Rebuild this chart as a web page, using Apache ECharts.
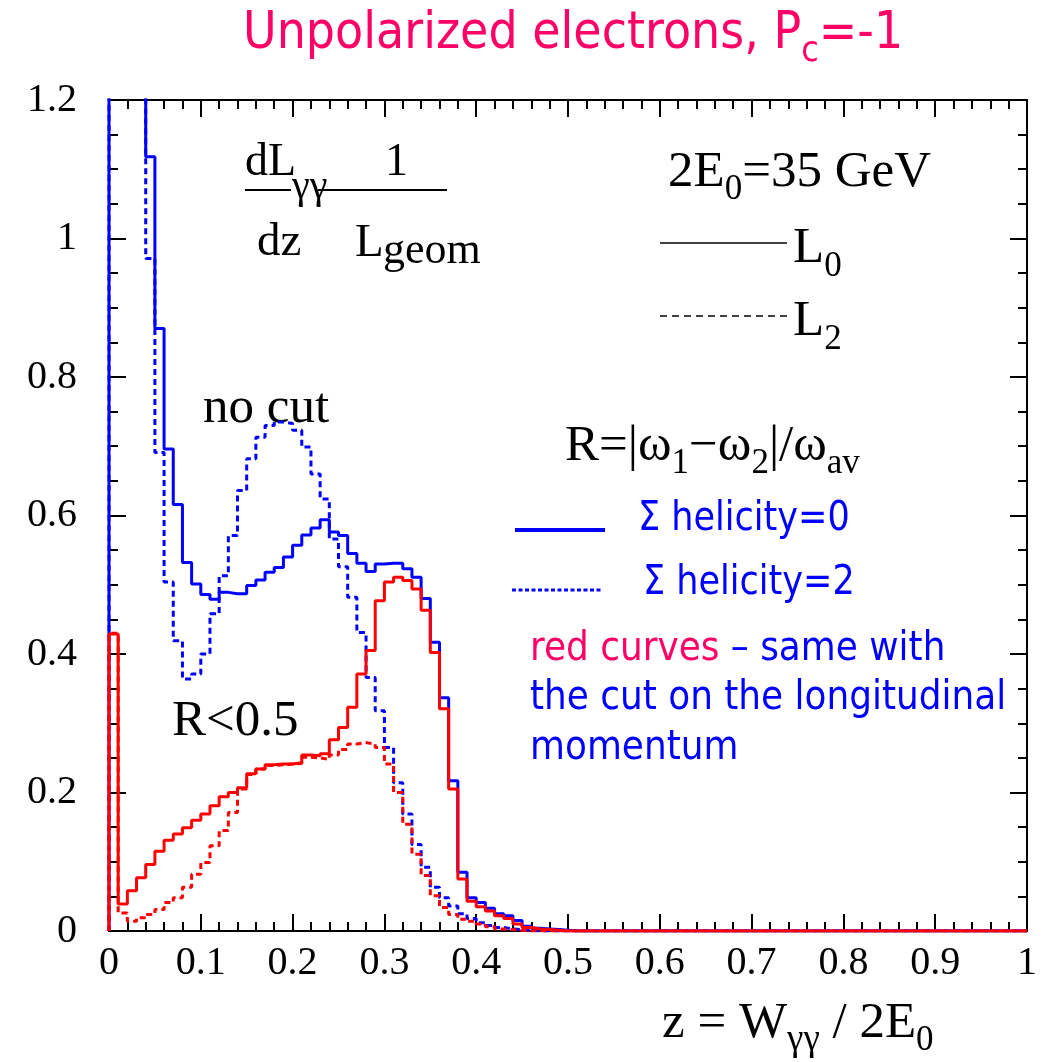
<!DOCTYPE html>
<html><head><meta charset="utf-8">
<script src="https://cdn.jsdelivr.net/npm/echarts@6/dist/echarts.min.js"></script>
<style>html,body{margin:0;padding:0;background:#fff}#c{width:1051px;height:1062px}</style>
</head><body><div id="c"></div>
<script>
// ---------------- data ----------------
const binWidth = 0.01;           // 100 bins on z in [0,1]
const xRange = [0, 1];
const yRange = [0, 1.2];
// Sigma helicity = 0 (L0), no cut  (first bins are off-scale, clipped at 1.2)
const noCutL0 = [1.6,1.45,1.35,1.25,1.118,0.870,0.696,0.616,0.532,0.501,
  0.486,0.479,0.489,0.487,0.487,0.499,0.507,0.518,0.525,0.540,
  0.557,0.572,0.582,0.594,0.576,0.571,0.545,0.531,0.519,0.530,
  0.531,0.531,0.523,0.511,0.480,0.417,0.337,0.217,0.085,0.048,
  0.041,0.033,0.025,0.022,0.015,0.007,0.004,0.003,0.002,0.001,
  0,0,0,0,0,0,0,0,0,0, 0,0,0,0,0,0,0,0,0,0, 0,0,0,0,0,0,0,0,0,0,
  0,0,0,0,0,0,0,0,0,0, 0,0,0,0,0,0,0,0,0,0];
// Sigma helicity = 2 (L2), no cut
const noCutL2 = [1.6,1.45,1.35,1.25,0.971,0.691,0.504,0.419,0.364,0.371,
  0.400,0.458,0.513,0.571,0.636,0.682,0.713,0.730,0.735,0.733,
  0.723,0.699,0.660,0.624,0.566,0.526,0.482,0.431,0.366,0.318,
  0.265,0.214,0.169,0.125,0.092,0.063,0.048,0.036,0.025,0.018,
  0.012,0.008,0.005,0.003,0.002,0.001,0,0,0,0,
  0,0,0,0,0,0,0,0,0,0, 0,0,0,0,0,0,0,0,0,0, 0,0,0,0,0,0,0,0,0,0,
  0,0,0,0,0,0,0,0,0,0, 0,0,0,0,0,0,0,0,0,0];
// with cut R<0.5, L0
const cutL0 = [0.429,0.039,0.058,0.077,0.096,0.115,0.131,0.140,0.149,0.160,
  0.169,0.181,0.194,0.200,0.207,0.227,0.234,0.240,0.241,0.241,
  0.243,0.254,0.253,0.256,0.276,0.294,0.323,0.371,0.405,0.477,
  0.504,0.511,0.506,0.494,0.463,0.402,0.321,0.205,0.075,0.043,
  0.035,0.029,0.022,0.018,0.010,0.005,0.003,0.002,0.001,0,
  0,0,0,0,0,0,0,0,0,0, 0,0,0,0,0,0,0,0,0,0, 0,0,0,0,0,0,0,0,0,0,
  0,0,0,0,0,0,0,0,0,0, 0,0,0,0,0,0,0,0,0,0];
// with cut R<0.5, L2
const cutL2 = [0.430,0.026,0.014,0.019,0.024,0.031,0.041,0.048,0.063,0.082,
  0.099,0.123,0.145,0.171,0.205,0.226,0.234,0.239,0.240,0.241,
  0.242,0.251,0.250,0.248,0.254,0.262,0.270,0.272,0.270,0.265,
  0.241,0.200,0.154,0.111,0.080,0.051,0.034,0.024,0.017,0.014,
  0.010,0.006,0.003,0.002,0.001,0,0,0,0,0,
  0,0,0,0,0,0,0,0,0,0, 0,0,0,0,0,0,0,0,0,0, 0,0,0,0,0,0,0,0,0,0,
  0,0,0,0,0,0,0,0,0,0, 0,0,0,0,0,0,0,0,0,0];

// ---------------- helpers ----------------
function histData(vals){
  const d = [[0, 0]];
  vals.forEach((v, i) => d.push([+(i * binWidth).toFixed(4), v]));
  d.push([xRange[1], vals[vals.length - 1]]);
  return d;
}
const SERIF = '"Liberation Serif","Times New Roman",serif';
const SANS = '"DejaVu Sans",Verdana,sans-serif';
const mctx = document.createElement('canvas').getContext('2d');
function tw(t, font){ mctx.font = font; return mctx.measureText(t).width; }
const K = 0.34; // middle->baseline offset factor
function run(x, base, parts){
  const els = [];
  let cx = x;
  parts.forEach(p => {
    const font = (p.weight || 'normal') + ' ' + p.size + 'px ' + p.fam;
    const sx = p.sx || 1;
    const yb = base + (p.dy || 0);
    els.push({type:'text', x: cx, y: yb - K * p.size, scaleX: sx, silent:true,
      style:{text:p.t, font: font, fill:p.color || '#000', align:'left', verticalAlign:'middle'}});
    cx += tw(p.t, font) * sx + (p.gap || 0);
  });
  return els;
}
function hline(x1, x2, y, color, w, dash){
  return {type:'line', silent:true, shape:{x1:x1, y1:y, x2:x2, y2:y},
    style:{stroke:color, lineWidth:w, lineDash: dash || null}};
}

const PINK = '#ff0066', BLUE = '#0000ff';
const SX = 0.87;
const TS = 51, SS = 35;   // Times main / subscript sizes
let g = [];
// title
g = g.concat(run(243, 52, [
  {t:'Unpolarized electrons, P', size:52, fam:SANS, color:PINK, sx:0.885},
  {t:'c', size:36, fam:SANS, color:PINK, sx:0.885, dy:12},
  {t:'=-1', size:52, fam:SANS, color:PINK, sx:0.885}
]));
// dL/dz 1/Lgeom
g = g.concat(run(245, 179, [{t:'dL', size:46, fam:SERIF}]));
g = g.concat(run(292, 201, [{t:'γγ', size:40, fam:SERIF}]));
g = g.concat(run(385, 179, [{t:'1', size:46, fam:SERIF}]));
g.push(hline(245, 291, 190, '#000', 2));
g.push(hline(318, 447, 190, '#000', 2));
g = g.concat(run(257, 259, [{t:'dz', size:47, fam:SERIF}]));
g = g.concat(run(355, 260, [{t:'L', size:47, fam:SERIF}]));
g = g.concat(run(383, 266, [{t:'geom', size:44, fam:SERIF}]));
// 2E0=35 GeV
g = g.concat(run(668, 190, [
  {t:'2E', size:TS, fam:SERIF}, {t:'0', size:SS, fam:SERIF, dy:12},
  {t:'=35 GeV', size:TS, fam:SERIF}
]));
g.push(hline(660, 787, 243, '#000', 1.5));
g = g.concat(run(793, 266, [{t:'L', size:TS, fam:SERIF}, {t:'0', size:SS, fam:SERIF, dy:13}]));
g.push(hline(660, 787, 316, '#000', 1.5, [7, 5]));
g = g.concat(run(793, 339, [{t:'L', size:TS, fam:SERIF}, {t:'2', size:SS, fam:SERIF, dy:13}]));
// no cut
g = g.concat(run(203, 426, [{t:'no cut', size:TS, fam:SERIF}]));
// R formula
g = g.concat(run(565, 464, [
  {t:'R=|ω', size:TS, fam:SERIF}, {t:'1', size:SS, fam:SERIF, dy:12},
  {t:'−ω', size:TS, fam:SERIF}, {t:'2', size:SS, fam:SERIF, dy:12},
  {t:'|/ω', size:TS, fam:SERIF}, {t:'av', size:SS, fam:SERIF, dy:12}
]));
// R<0.5
g = g.concat(run(172, 739, [{t:'R<0.5', size:TS, fam:SERIF}]));
// blue legend
g.push(hline(515, 605, 530, BLUE, 4));
g = g.concat(run(638, 533, [{t:'Σ helicity=0', size:41, fam:SANS, color:BLUE, sx:0.855}]));
g.push(hline(512, 602, 590, BLUE, 3, [4, 2.5]));
g = g.concat(run(643, 597, [{t:'Σ helicity=2', size:41, fam:SANS, color:BLUE, sx:0.855}]));
g = g.concat(run(530, 663, [
  {t:'red curves', size:41, fam:SANS, color:PINK, sx:0.875},
  {t:' – same with', size:41, fam:SANS, color:BLUE, sx:0.875}
]));
g = g.concat(run(530, 712, [{t:'the cut on the longitudinal', size:41, fam:SANS, color:BLUE, sx:0.875}]));
g = g.concat(run(530, 762, [{t:'momentum', size:41, fam:SANS, color:BLUE, sx:0.875}]));
// axis title
g = g.concat(run(662, 1041, [
  {t:'z = W', size:TS, fam:SERIF}, {t:'γγ', size:37, fam:SERIF, dy:12},
  {t:' / 2E', size:TS, fam:SERIF}, {t:'0', size:SS, fam:SERIF, dy:12}
]));

function mkX(pos, showLabel){
  return {type:'value', min:xRange[0], max:xRange[1], interval:0.1, position:pos, gridIndex:0,
    axisLine:{show:true, onZero:false, lineStyle:{color:'#000', width:2}},
    axisTick:{show:true, inside:true, length:17, lineStyle:{color:'#000', width:2}},
    minorTick:{show:true, splitNumber:5, length:9, lineStyle:{color:'#000', width:2}},
    splitLine:{show:false}, minorSplitLine:{show:false},
    axisLabel:{show:showLabel, color:'#000', fontFamily:SERIF, fontSize:40, margin:12}};
}
function mkY(pos, showLabel){
  return {type:'value', min:yRange[0], max:yRange[1], interval:0.2, position:pos, gridIndex:0,
    axisLine:{show:true, onZero:false, lineStyle:{color:'#000', width:2}},
    axisTick:{show:true, inside:true, length:17, lineStyle:{color:'#000', width:2}},
    minorTick:{show:true, splitNumber:4, length:9, lineStyle:{color:'#000', width:2}},
    splitLine:{show:false}, minorSplitLine:{show:false},
    axisLabel:{show:showLabel, color:'#000', fontFamily:SERIF, fontSize:40, margin:32}};
}
function ser(vals, color, width, dash, z){
  return {type:'line', step:'end', data:histData(vals), symbol:'none', showSymbol:false,
    clip:true, silent:true, z:z, xAxisIndex:0, yAxisIndex:0,
    lineStyle:{color:color, width:width, type:dash || 'solid'}};
}
const chart = echarts.init(document.getElementById('c'), null, {renderer:'canvas'});
chart.setOption({
  animation:false,
  backgroundColor:'#fff',
  grid:{left:109, right:24, top:100, bottom:131, containLabel:false, outerBoundsMode:'none'},
  xAxis:[mkX('bottom', true), mkX('top', false)],
  yAxis:[mkY('left', true), mkY('right', false)],
  series:[
    ser(noCutL2, BLUE, 3, [6,4], 2),
    ser(noCutL0, BLUE, 3, 'solid', 3),
    ser(cutL2, '#ff0000', 3, [6,4], 4),
    ser(cutL0, '#ff0000', 3, 'solid', 5)
  ],
  graphic:{elements:g}
});
</script></body></html>
